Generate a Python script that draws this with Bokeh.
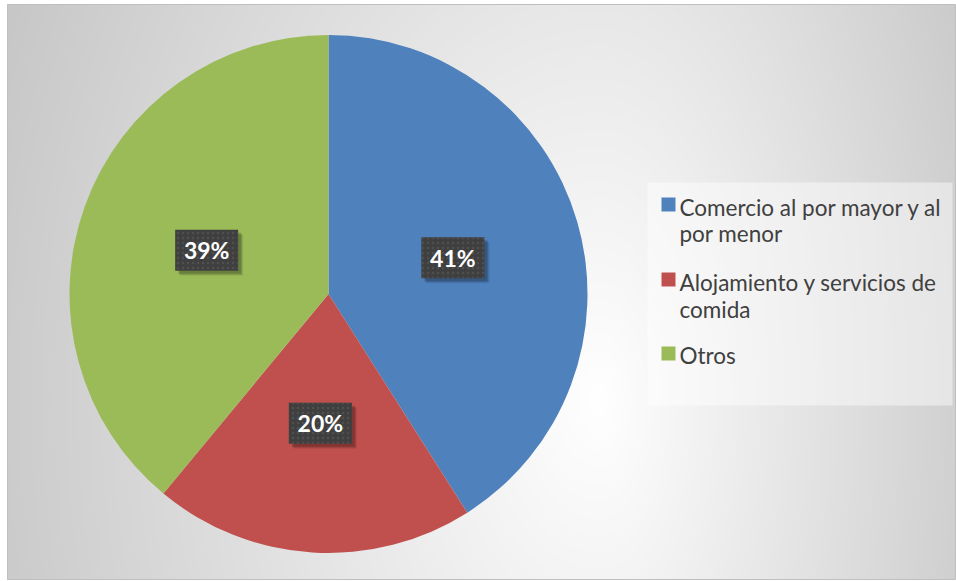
import numpy as np
from bokeh.plotting import figure
from bokeh.models import Range1d, ColumnDataSource
from bokeh.core.properties import value
from bokeh.embed import file_html
from bokeh.resources import INLINE

# ---- data ----
categories = ["Comercio al por mayor y al por menor",
              "Alojamiento y servicios de comida",
              "Otros"]
legend_lines = [["Comercio al por mayor y al", "por menor"],
                ["Alojamiento y servicios de", "comida"],
                ["Otros"]]
values = [41, 20, 39]
colors = ["#4F81BD", "#C0504D", "#9BBB59"]

# ---- layout (page pixels -> data coords) ----
W, H = 956, 581
OX, OY = 0, 0
def dx(ix):
    return ix - OX
def dy(iy):
    return (OY + H) - iy

p = figure(width=W, height=H, x_range=Range1d(0, W), y_range=Range1d(0, H),
           output_backend="svg", toolbar_location=None, min_border=0,
           x_axis_location=None, y_axis_location=None)
p.grid.visible = False
p.outline_line_color = None
p.background_fill_color = "white"
p.border_fill_color = "white"

# chart area bounds (page px)
AL, AR, AT, AB = 7, 955, 4, 579

# ---- background gradient ----
jj, ii = np.mgrid[0:H, 0:W]
img_x = ii + OX + 0.5
img_y = (OY + H) - (jj + 0.5)
cx, cy = 600.0, 400.0
ddx = img_x - cx
ddy = img_y - cy
kx = np.where(ddx < 0, 0.086, 0.13)
ky = 0.059
drop = np.sqrt((kx * ddx) ** 2 + (ky * ddy) ** 2)
v = np.clip(255 - drop, 190, 255).astype(np.uint8)
inside = (img_x >= AL) & (img_x <= AR) & (img_y >= AT) & (img_y <= AB)
v = np.where(inside, v, 255).astype(np.uint8)
img = np.empty((H, W), dtype=np.uint32)
view = img.view(dtype=np.uint8).reshape((H, W, 4))
view[:, :, 0] = v
view[:, :, 1] = v
view[:, :, 2] = v
view[:, :, 3] = 255
p.image_rgba(image=[img], x=0, y=0, dw=W, dh=H)
p.quad(left=dx(AL), right=dx(AR), top=dy(AT), bottom=dy(AB),
       fill_color=None, line_color="#bfbfbf", line_width=1)

# ---- pie ----
total = float(sum(values))
fr = np.array(values) / total
cum = np.concatenate([[0.0], np.cumsum(fr)])
start = np.pi / 2 - cum[1:] * 2 * np.pi
end = np.pi / 2 - cum[:-1] * 2 * np.pi
PCX, PCY, R = dx(328), dy(293.5), 259
src = ColumnDataSource(dict(start=start, end=end, color=colors, cat=categories))
p.wedge(x=PCX, y=PCY, radius=R, start_angle="start", end_angle="end",
        direction="anticlock", fill_color="color", line_color=None, source=src)

# ---- data labels ----
mid = (start + end) / 2
lx = PCX + 0.5 * R * np.cos(mid)
ly = PCY + 0.5 * R * np.sin(mid)
lab = ColumnDataSource(dict(x=lx, y=ly, t=[f"{v_}%" for v_ in values]))
for off, a in [(5, 0.08), (4, 0.12), (3, 0.16)]:
    p.rect(x=lx + off, y=ly - off, width=63, height=41,
           width_units="screen", height_units="screen",
           fill_color="black", fill_alpha=a, line_color=None)
p.rect(x="x", y="y", width=63, height=41, width_units="screen",
       height_units="screen", fill_color="#3f3f3f", line_color=None,
       hatch_pattern="dot", hatch_color="#4f4f4f", hatch_scale=5,
       hatch_weight=2, source=lab)
p.text(x="x", y="y", text="t", text_align="center", text_baseline="middle",
       text_color="white", text_font=value("Lato"), text_font_style="bold",
       text_font_size="23px", source=lab)

# ---- legend ----
p.quad(left=dx(647), right=dx(952), top=dy(182), bottom=dy(405),
       fill_color="white", fill_alpha=0.45, line_color=None)
sq_y = [204, 279, 353]
base_y = [[207, 233], [282, 309], [355]]
p.rect(x=[dx(668)] * 3, y=[dy(s) for s in sq_y], width=14, height=14,
       width_units="screen", height_units="screen", fill_color=colors,
       line_color=None)
tx, ty, tt = [], [], []
for lines, bys in zip(legend_lines, base_y):
    for ln, by in zip(lines, bys):
        tx.append(dx(679))
        ty.append(dy(by))
        tt.append(ln)
p.text(x=tx, y=ty, text=tt, text_align="left", text_baseline="alphabetic",
       text_color="#404040", text_font=value("Lato"), text_font_size="22.5px")

open("out.html", "w").write(file_html(p, INLINE))
